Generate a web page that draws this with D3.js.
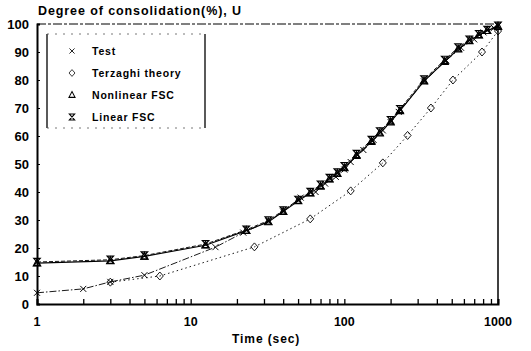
<!DOCTYPE html>
<html>
<head>
<meta charset="utf-8">
<script src="https://cdn.jsdelivr.net/npm/d3@7"></script>
<style>
  body { margin: 0; background: #fff; }
  #container { width: 531px; height: 351px; }
  text { font-family: "Liberation Sans", Arial, sans-serif; font-weight: bold; fill: #000; }
</style>
</head>
<body>
<div id="container"></div>
<script>
// values
const testTime = [1, 2, 3, 5, 14.5, 22, 32, 40, 52, 65, 75, 88, 100, 110, 133, 155, 178, 200, 226, 330, 460, 575, 700, 805, 940, 1000];
const testU    = [4, 5.4, 7.9, 10.3, 20.3, 25.5, 29.5, 33, 38, 40, 43, 45.4, 48, 50.7, 55, 58.6, 62, 65, 68.6, 79.5, 87, 91.5, 94.5, 97, 98.6, 99.4];

const terzTime = [3, 6.3, 26, 60, 110, 178, 258, 366, 509, 787, 1000];
const terzU    = [7.8, 10, 20.4, 30.4, 40.4, 50.4, 60.2, 70, 80, 90, 97.5];

const fscTime      = [1, 3, 5, 12.5, 23, 32, 40, 50, 60, 70, 80, 90, 100, 120, 150, 170, 200, 230, 330, 450, 550, 650, 750, 850, 1000];
const nonlinearU   = [14.6, 15.4, 17, 21, 26.2, 29.3, 33, 36.8, 39.6, 42, 44.6, 46.6, 48.6, 53, 58, 61, 65, 69, 79.6, 86.6, 91, 94, 96, 97.6, 99.2];
const linearU      = [15, 15.8, 17.3, 21.4, 26.5, 29.8, 33.4, 37.2, 40, 42.6, 45, 47, 49.2, 53.6, 58.6, 61.6, 65.6, 69.6, 80.2, 87.2, 91.6, 94.4, 96.4, 97.9, 99.4];

const yTicks = d3.range(0, 101, 10);
const xLabels = [1, 10, 100, 1000];
const legendLabels = ["Test", "Terzaghi theory", "Nonlinear FSC", "Linear FSC"];

const W = 531, H = 351;
const margin = { top: 24, right: 33, bottom: 47, left: 37 };
const width = W - margin.left - margin.right;
const height = H - margin.top - margin.bottom;

const svg = d3.select("#container").append("svg")
    .attr("width", W).attr("height", H)
    .attr("viewBox", `0 0 ${W} ${H}`);
const g = svg.append("g").attr("transform", `translate(${margin.left},${margin.top})`);

const x = d3.scaleLog().domain([1, 1000]).range([0, width]);
const y = d3.scaleLinear().domain([0, 100]).range([height, 0]);

// frame: top and right thin, left and bottom heavy
g.append("line").attr("x1", 0).attr("x2", width).attr("y1", 0).attr("y2", 0)
    .attr("stroke", "#000").attr("stroke-width", 1).attr("stroke-dasharray", "9,2,3,2");
g.append("line").attr("x1", width).attr("x2", width).attr("y1", 0).attr("y2", height)
    .attr("stroke", "#000").attr("stroke-width", 1.5);

// bottom axis with inward ticks
const xAxis = d3.axisBottom(x).tickValues(d3.range(0, 3).flatMap(e => d3.range(1, 10).map(k => k * Math.pow(10, e))).concat([1000]))
    .tickSize(-5).tickFormat("");
g.append("g").attr("class", "axis").attr("transform", `translate(0,${height})`).call(xAxis)
    .call(a => a.select(".domain").attr("stroke-width", 2))
    .call(a => a.selectAll(".tick line").attr("stroke-width", 1.3));
g.selectAll(".xlab").data(xLabels).enter().append("text")
    .attr("x", d => x(d)).attr("y", height + 22)
    .attr("text-anchor", "middle").attr("font-size", 12.5).text(d => d);

// left axis
const yAxis = d3.axisLeft(y).tickValues(yTicks).tickSize(-3).tickPadding(8).tickFormat(d => d);
g.append("g").attr("class", "axis").call(yAxis)
    .call(a => a.select(".domain").attr("stroke-width", 2))
    .call(a => a.selectAll(".tick text").attr("font-size", 13).attr("font-family", "Liberation Sans, Arial").attr("font-weight", "bold"));

// titles
svg.append("text").attr("x", 38).attr("y", 15).attr("font-size", 12.5)
    .attr("letter-spacing", 0.9).text("Degree of consolidation(%), U");
svg.append("text").attr("x", margin.left + x(31)).attr("y", 343).attr("text-anchor", "middle")
    .attr("font-size", 12).attr("letter-spacing", 0.9).text("Time (sec)");

// markers
function drawMarker(sel, type) {
    if (type === "cross") {
        sel.append("path").attr("d", "M-3,-3L3,3M-3,3L3,-3").attr("stroke", "#000").attr("stroke-width", 1).attr("fill", "none");
    } else if (type === "circle") {
        sel.append("path").attr("d", "M0,-4L3.5,0L0,4L-3.5,0Z").attr("stroke", "#000").attr("stroke-width", 0.9).attr("fill", "none");
    } else if (type === "triangle") {
        sel.append("path").attr("d", "M0,-4L3.6,2.8L-3.6,2.8Z").attr("stroke", "#000").attr("stroke-width", 1.2).attr("fill", "none");
    } else {
        sel.append("path").attr("d", "M-3.2,-3.6L3.2,-3.6L-3.2,3.6L3.2,3.6Z").attr("stroke", "#000").attr("stroke-width", 1.2).attr("fill", "none");
    }
}

const series = [
    { name: legendLabels[0], t: testTime, u: testU, dash: "7,2,1.5,2", w: 0.9, marker: "cross" },
    { name: legendLabels[1], t: terzTime, u: terzU, dash: "1.5,3", w: 0.9, marker: "circle" },
    { name: legendLabels[2], t: fscTime, u: nonlinearU, dash: null, w: 1.1, marker: "triangle" },
    { name: legendLabels[3], t: fscTime, u: linearU, dash: "4,2", w: 0.9, marker: "hourglass" }
];

const line = d3.line().x(d => x(d[0])).y(d => y(d[1]));
series.forEach(s => {
    const pts = s.t.map((t, i) => [t, s.u[i]]);
    g.append("path").datum(pts).attr("d", line)
        .attr("fill", "none").attr("stroke", "#000").attr("stroke-width", s.w)
        .attr("stroke-dasharray", s.dash);
    g.selectAll(null).data(pts).enter().append("g")
        .attr("transform", d => `translate(${x(d[0])},${y(d[1])})`)
        .each(function() { drawMarker(d3.select(this), s.marker); });
});

// legend box
const lg = svg.append("g").attr("transform", "translate(47,34)");
const lw = 158, lh = 94;
lg.append("line").attr("x1", 0).attr("x2", 0).attr("y1", 0).attr("y2", lh).attr("stroke", "#000").attr("stroke-width", 1.3);
lg.append("line").attr("x1", lw).attr("x2", lw).attr("y1", 0).attr("y2", lh).attr("stroke", "#000").attr("stroke-width", 1.3);
lg.append("line").attr("x1", 0).attr("x2", lw).attr("y1", 0).attr("y2", 0).attr("stroke", "#555").attr("stroke-width", 0.8).attr("stroke-dasharray", "2,6");
lg.append("line").attr("x1", 0).attr("x2", lw).attr("y1", lh).attr("y2", lh).attr("stroke", "#555").attr("stroke-width", 0.8).attr("stroke-dasharray", "2,6");
series.forEach((s, i) => {
    const row = lg.append("g").attr("transform", `translate(0,${17 + i * 22})`);
    const m = row.append("g").attr("transform", "translate(25,0) scale(0.85)");
    drawMarker(m, s.marker);
    row.append("text").attr("x", 45).attr("y", 4).attr("font-size", 10.5)
        .attr("letter-spacing", 0.8).text(s.name);
});
</script>
</body>
</html>
